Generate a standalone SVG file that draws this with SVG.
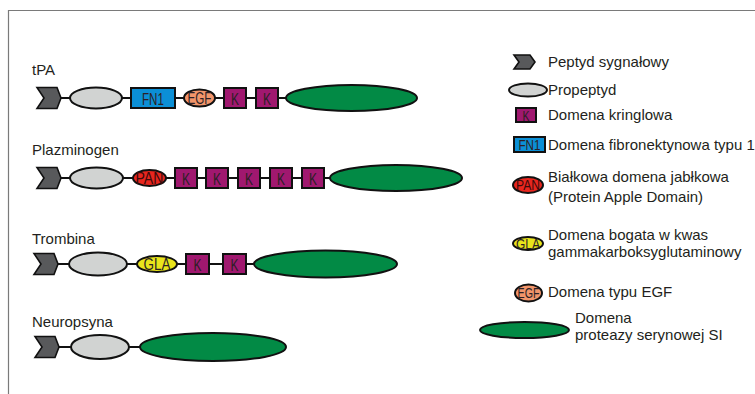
<svg xmlns="http://www.w3.org/2000/svg" xmlns:xlink="http://www.w3.org/1999/xlink" width="755" height="394" viewBox="0 0 755 394">
<defs>
<style>
text{font-family:"Liberation Sans",Arial,sans-serif;fill:#231f20;}
.lbl{font-size:15px;}
.in{font-size:17px;fill:#2b1f25;text-anchor:middle;}
.ins{font-size:14px;fill:#2b1f25;text-anchor:middle;}
.sig{fill:#58595b;stroke:#111;stroke-width:1.6;stroke-linejoin:miter;}
.pro{fill:#d1d3d2;stroke:#111;stroke-width:2;}
.fn1{fill:#0b8fd6;stroke:#111;stroke-width:2;}
.egf{fill:#f2956a;stroke:#111;stroke-width:2;}
.k{fill:#a0186f;stroke:#111;stroke-width:2;}
.ser{fill:#028a45;stroke:#111;stroke-width:2;}
.pan{fill:#e8261e;stroke:#111;stroke-width:2;}
.gla{fill:#e9e41b;stroke:#111;stroke-width:2;}
.con line{stroke:#111;stroke-width:2;}
.frame{stroke:#7a7a7a;stroke-width:1.2;fill:none;}
</style>
<path id="chev" d="M0,0 H20 L24,10.5 L20,21 H0 L7,10.5 Z"/>
</defs>
<rect width="755" height="394" fill="#fff"/>
<path class="frame" d="M8.5,394 V10.5 H755"/>

<g id="connectors" class="con">
<line x1="58" y1="98" x2="70" y2="98"/>
<line x1="122" y1="98" x2="131" y2="98"/>
<line x1="175" y1="98" x2="184" y2="98"/>
<line x1="215" y1="98" x2="224" y2="98"/>
<line x1="246" y1="98" x2="256" y2="98"/>
<line x1="278" y1="98" x2="286" y2="98"/>

<line x1="58" y1="178" x2="70" y2="178"/>
<line x1="123" y1="178" x2="133" y2="178"/>
<line x1="166" y1="178" x2="175" y2="178"/>
<line x1="197" y1="178" x2="206" y2="178"/>
<line x1="228" y1="178" x2="238" y2="178"/>
<line x1="260" y1="178" x2="270" y2="178"/>
<line x1="292" y1="178" x2="302" y2="178"/>
<line x1="324" y1="178" x2="330" y2="178"/>

<line x1="56" y1="264" x2="69" y2="264"/>
<line x1="127" y1="264" x2="137" y2="264"/>
<line x1="177" y1="264" x2="186" y2="264"/>
<line x1="209" y1="264" x2="223" y2="264"/>
<line x1="246" y1="264" x2="254" y2="264"/>

<line x1="57" y1="347" x2="71" y2="347"/>
<line x1="129" y1="347" x2="140" y2="347"/>
</g>

<g id="tPA">
<text class="lbl" x="32" y="75">tPA</text>
<use href="#chev" class="sig" transform="translate(37,87.5)"/>
<ellipse class="pro" cx="96" cy="98" rx="26" ry="10.5"/>
<rect class="fn1" x="131" y="88" width="44" height="20"/>
<text class="in" x="153" y="104.5" textLength="22" lengthAdjust="spacingAndGlyphs">FN1</text>
<ellipse class="egf" cx="199.5" cy="98" rx="15.5" ry="8.5"/>
<text class="in" x="199.5" y="104" textLength="24" lengthAdjust="spacingAndGlyphs">EGF</text>
<rect class="k" x="224" y="88" width="22" height="20"/>
<text class="in" x="235" y="104.5" textLength="8" lengthAdjust="spacingAndGlyphs">K</text>
<rect class="k" x="256" y="88" width="22" height="20"/>
<text class="in" x="267" y="104.5" textLength="8" lengthAdjust="spacingAndGlyphs">K</text>
<ellipse class="ser" cx="351.5" cy="98" rx="65.5" ry="13"/>
</g>

<g id="plazminogen">
<text class="lbl" x="32" y="155">Plazminogen</text>
<use href="#chev" class="sig" transform="translate(37,167.5)"/>
<ellipse class="pro" cx="96.5" cy="178" rx="26.5" ry="10.5"/>
<ellipse class="pan" cx="149.5" cy="178" rx="16.5" ry="8"/>
<text class="in" x="149.5" y="184" textLength="28" lengthAdjust="spacingAndGlyphs" style="fill:#3a0b0b">PAN</text>
<rect class="k" x="175" y="168" width="22" height="20"/>
<text class="in" x="186" y="184.5" textLength="8" lengthAdjust="spacingAndGlyphs">K</text>
<rect class="k" x="206" y="168" width="22" height="20"/>
<text class="in" x="217" y="184.5" textLength="8" lengthAdjust="spacingAndGlyphs">K</text>
<rect class="k" x="238" y="168" width="22" height="20"/>
<text class="in" x="249" y="184.5" textLength="8" lengthAdjust="spacingAndGlyphs">K</text>
<rect class="k" x="270" y="168" width="22" height="20"/>
<text class="in" x="281" y="184.5" textLength="8" lengthAdjust="spacingAndGlyphs">K</text>
<rect class="k" x="302" y="168" width="22" height="20"/>
<text class="in" x="313" y="184.5" textLength="8" lengthAdjust="spacingAndGlyphs">K</text>
<ellipse class="ser" cx="396" cy="178" rx="66" ry="13"/>
</g>

<g id="trombina">
<text class="lbl" x="32" y="244">Trombina</text>
<use href="#chev" class="sig" transform="translate(34,253.5)"/>
<ellipse class="pro" cx="98" cy="264" rx="29" ry="11.5"/>
<ellipse class="gla" cx="157" cy="264" rx="20" ry="8"/>
<text class="in" x="157" y="270" textLength="27" lengthAdjust="spacingAndGlyphs">GLA</text>
<rect class="k" x="186" y="254" width="23" height="20"/>
<text class="in" x="197.5" y="270.5" textLength="8" lengthAdjust="spacingAndGlyphs">K</text>
<rect class="k" x="223" y="254" width="23" height="20"/>
<text class="in" x="234.5" y="270.5" textLength="8" lengthAdjust="spacingAndGlyphs">K</text>
<ellipse class="ser" cx="325.5" cy="264" rx="71.5" ry="13.5"/>
</g>

<g id="neuropsyna">
<text class="lbl" x="32" y="327">Neuropsyna</text>
<use href="#chev" class="sig" transform="translate(35,336.5)"/>
<ellipse class="pro" cx="100" cy="347" rx="29" ry="12"/>
<ellipse class="ser" cx="213" cy="347" rx="73" ry="14"/>
</g>

<g id="legend">
<g id="leg-signal">
<path class="sig" d="M514,55 H530 L535,62 L530,69 H514 L519,62 Z"/>
<text class="lbl" x="548" y="67">Peptyd sygnałowy</text>
</g>
<g id="leg-propeptide">
<ellipse class="pro" cx="528" cy="90" rx="19" ry="6.5"/>
<text class="lbl" x="548" y="95">Propeptyd</text>
</g>
<g id="leg-kringle">
<rect class="k" x="516" y="108" width="20" height="14"/>
<text class="ins" x="526" y="120.5" textLength="7" lengthAdjust="spacingAndGlyphs">K</text>
<text class="lbl" x="548" y="120">Domena kringlowa</text>
</g>
<g id="leg-fn1">
<rect class="fn1" x="514" y="137" width="31" height="15"/>
<text class="ins" x="529.5" y="150" textLength="22" lengthAdjust="spacingAndGlyphs">FN1</text>
<text class="lbl" x="548" y="150">Domena fibronektynowa typu 1</text>
</g>
<g id="leg-pan">
<ellipse class="pan" cx="528" cy="185" rx="15" ry="8"/>
<text class="ins" x="528" y="190" textLength="24" lengthAdjust="spacingAndGlyphs" style="fill:#3a0b0b">PAN</text>
<text class="lbl" x="548" y="182">Białkowa domena jabłkowa</text>
<text class="lbl" x="548" y="202">(Protein Apple Domain)</text>
</g>
<g id="leg-gla">
<ellipse class="gla" cx="528" cy="243.5" rx="15" ry="6.5"/>
<text class="ins" x="528" y="248.5" textLength="24" lengthAdjust="spacingAndGlyphs">GLA</text>
<text class="lbl" x="548" y="240">Domena bogata w kwas</text>
<text class="lbl" x="548" y="257">gammakarboksyglutaminowy</text>
</g>
<g id="leg-egf">
<ellipse class="egf" cx="528.5" cy="293" rx="13.5" ry="8.5"/>
<text class="ins" x="528.5" y="298" textLength="22" lengthAdjust="spacingAndGlyphs">EGF</text>
<text class="lbl" x="548" y="297">Domena typu EGF</text>
</g>
<g id="leg-serine">
<ellipse class="ser" cx="524.5" cy="330" rx="44.5" ry="8"/>
<text class="lbl" x="575" y="323">Domena</text>
<text class="lbl" x="575" y="340">proteazy serynowej SI</text>
</g>
</g>
</svg>
